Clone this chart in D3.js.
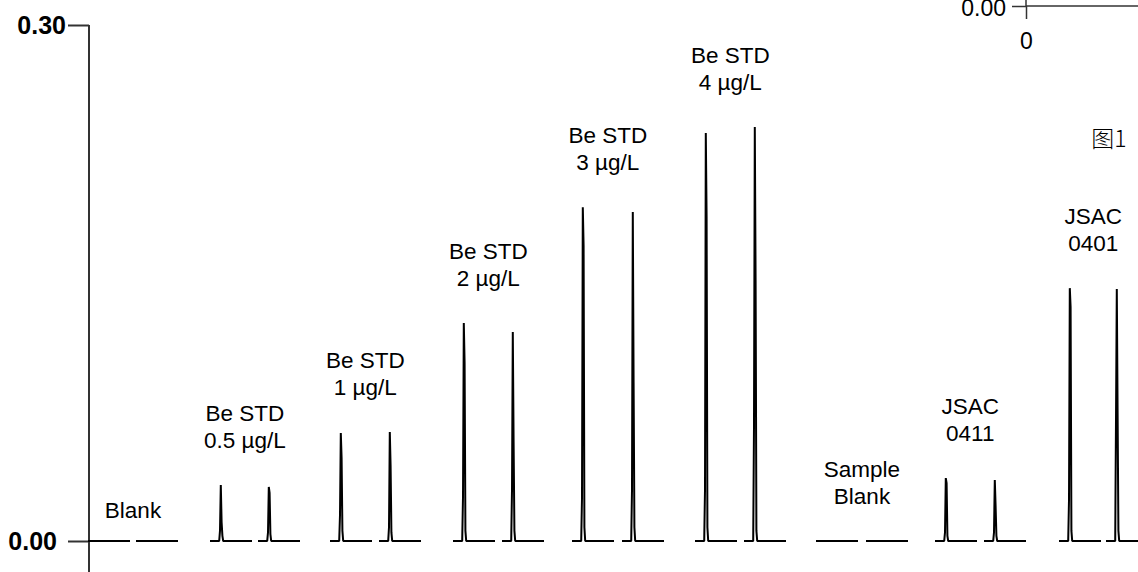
<!DOCTYPE html>
<html>
<head>
<meta charset="utf-8">
<script src="https://cdn.jsdelivr.net/npm/d3@7"></script>
<style>
  body { margin: 0; background: #fff; }
  svg { display: block; font-family: "Liberation Sans", Arial, sans-serif; }
</style>
</head>
<body>
<svg id="chart" width="1138" height="572"></svg>
<script>
// 每组两次进样, 每次进样一段信号
const groupLabels = [
  ['Blank'],
  ['Be STD', '0.5 µg/L'],
  ['Be STD', '1 µg/L'],
  ['Be STD', '2 µg/L'],
  ['Be STD', '3 µg/L'],
  ['Be STD', '4 µg/L'],
  ['Sample', 'Blank'],
  ['JSAC', '0411'],
  ['JSAC', '0401']
]

// 每次进样开始时间 (s)
const runStarts = [0, 48, 122, 170, 242, 291, 365, 414, 484, 534, 607, 656, 728, 778, 847, 896, 971, 1018]
// 峰的各点信号 (0 = 无峰)
const peakLow      = [0, 0, 0.006, 0.005, 0.0151, 0.008, 0.0256, 0.0297, 0.025, 0.0297, 0.0297, 0.0674, 0, 0, 0.005, 0.005, 0.0238, 0.0703]
const peakApex     = [0, 0, 0.0326, 0.0314, 0.0628, 0.0634, 0.1267, 0.1215, 0.194, 0.1913, 0.2372, 0.2407, 0, 0, 0.0366, 0.0355, 0.147, 0.1465]
const peakShoulder = [0, 0, 0.011, 0.028, 0.0483, 0.0436, 0.1035, 0.0576, 0.1715, 0.0919, 0.1884, 0.1517, 0, 0, 0.0337, 0.0203, 0.136, 0.0744]
const peakTail     = [0, 0, 0.003, 0.004, 0.006, 0.005, 0.006, 0.006, 0.008, 0.008, 0.008, 0.006, 0, 0, 0.003, 0.003, 0.006, 0.006]

const yTicks = [0, 0.30]
const runLength = 42
const peakOffset = 10
const step = 0.8

const svg = d3.select('#chart')
const width = 1138, height = 572

const x = d3.scaleLinear().domain([0, 1050]).range([88, 1138])
const y = d3.scaleLinear().domain([0, 0.30]).range([541, 25])

// y轴
const yAxis = d3.axisLeft(y)
  .tickValues(yTicks)
  .tickSize(21)
  .tickPadding(2)
  .tickFormat(d3.format('.2f'))

const gAxis = svg.append('g')
  .attr('transform', 'translate(89,0)')
  .call(yAxis)
gAxis.select('.domain').remove()
gAxis.selectAll('.tick line').attr('stroke', '#333').attr('stroke-width', 2)
gAxis.selectAll('.tick text')
  .attr('fill', '#000')
  .attr('dx', d => d === 0 ? -9 : 0)
  .style('font-size', '25px')
  .style('font-weight', 'bold')
  .style('font-family', '"Liberation Sans", Arial, sans-serif')
gAxis.append('line')
  .attr('x1', 0).attr('x2', 0)
  .attr('y1', y(0.30)).attr('y2', height + 10)
  .attr('stroke', '#333')
  .attr('stroke-width', 2)

// 信号曲线
const runs = runStarts.map((t0, i) => {
  const pts = [[t0, 0]]
  if (peakApex[i] > 0) {
    const p = t0 + peakOffset
    pts.push([p - step, 0], [p, peakLow[i]], [p + step, peakApex[i]],
      [p + 2 * step, peakShoulder[i]], [p + 3 * step, peakTail[i]], [p + 4 * step, 0])
  }
  pts.push([t0 + runLength, 0])
  return pts
})

const line = d3.line()
  .x(d => x(d[0]))
  .y(d => y(d[1]))

svg.append('g').selectAll('path.trace').data(runs).join('path')
  .attr('class', 'trace')
  .attr('d', line)
  .attr('fill', 'none')
  .attr('stroke', '#000')
  .attr('stroke-width', 2)
  .attr('stroke-linejoin', 'bevel')

// 标注
const labelG = svg.append('g')
groupLabels.forEach((lines, g) => {
  const i0 = 2 * g, i1 = 2 * g + 1
  const hasPeak = peakApex[i0] > 0
  const cx = hasPeak
    ? (x(runStarts[i0] + peakOffset + step) + x(runStarts[i1] + peakOffset + step)) / 2
    : (x(runStarts[i0]) + x(runStarts[i1] + runLength)) / 2
  const top = y(Math.max(peakApex[i0], peakApex[i1]))
  const lastY = lines.length > 1 ? top - 45 : top - 31
  lines.forEach((t, k) => {
    labelG.append('text')
      .attr('x', cx)
      .attr('y', lastY - (lines.length - 1 - k) * 27)
      .attr('dy', '0.35em')
      .attr('text-anchor', 'middle')
      .style('font-size', '22.5px')
      .text(t)
  })
})

// 右上角插图的坐标轴 (被裁掉一部分)
const xIn = d3.scaleLinear().domain([0, 10]).range([1026, 1200])
const yIn = d3.scaleLinear().domain([0, 0.1]).range([6, -100])

const gIn = svg.append('g')
gIn.append('g')
  .attr('transform', `translate(0,${yIn(0)})`)
  .call(d3.axisBottom(xIn).tickValues([0]).tickSize(13).tickPadding(14))
  .call(g => g.select('.domain').remove())
gIn.append('g')
  .attr('transform', `translate(${xIn(0)},0)`)
  .call(d3.axisLeft(yIn).tickValues([0]).tickSize(14).tickPadding(6).tickFormat(d3.format('.2f')))
  .call(g => g.select('.domain').remove())
  .call(g => g.select('.tick text').attr('dy', '0.4em'))
gIn.selectAll('.tick text')
  .attr('fill', '#000')
  .style('font-size', '23px')
  .style('font-family', '"Liberation Sans", Arial, sans-serif')
gIn.selectAll('.tick line').attr('stroke', '#333').attr('stroke-width', 1.5)
gIn.append('line')
  .attr('x1', xIn(0)).attr('x2', width)
  .attr('y1', yIn(0)).attr('y2', yIn(0))
  .attr('stroke', '#333').attr('stroke-width', 1.5)
gIn.append('line')
  .attr('x1', xIn(0)).attr('x2', xIn(0))
  .attr('y1', -5).attr('y2', yIn(0))
  .attr('stroke', '#333').attr('stroke-width', 1.5)

svg.append('text')
  .attr('x', 1109)
  .attr('y', 139)
  .attr('dy', '0.35em')
  .attr('text-anchor', 'middle')
  .style('font-size', '23px')
  .style('font-family', '"Noto Sans CJK SC", sans-serif')
  .style('font-weight', 300)
  .text('图1')
</script>
</body>
</html>
